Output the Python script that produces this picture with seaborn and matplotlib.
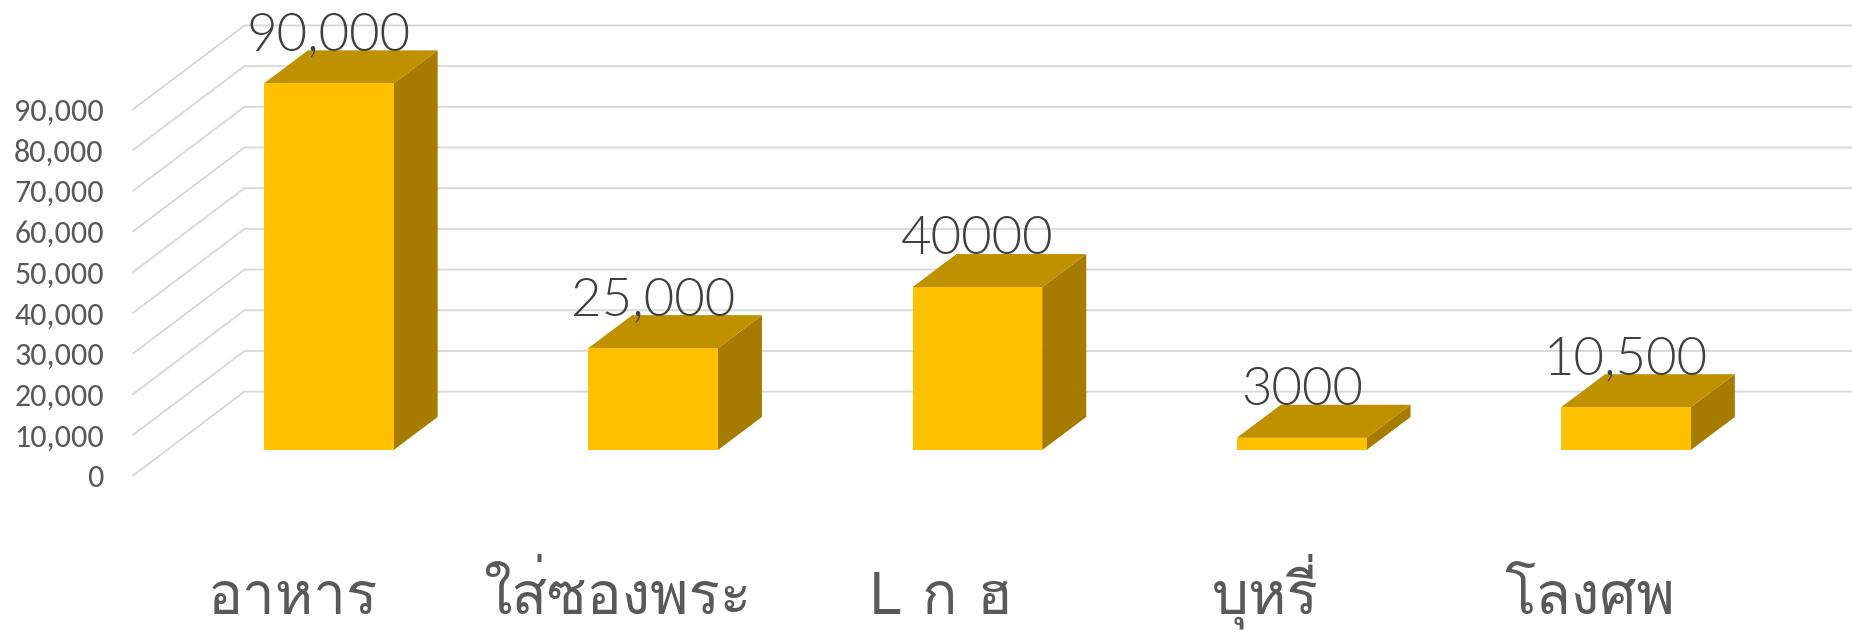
import matplotlib
matplotlib.use('Agg')
import matplotlib.pyplot as plt
from matplotlib.transforms import ScaledTranslation
import seaborn as sns

categories = ['อาหาร', 'ใส่ซองพระ', 'L ก ฮ', 'บุหรี่', 'โลงศพ']
values = [90000, 25000, 40000, 3000, 10500]
value_labels = ['90,000', '25,000', '40000', '3000', '10,500']
y_ticks = [0, 10000, 20000, 30000, 40000, 50000, 60000, 70000, 80000, 90000]

W, H, DPI = 1852, 638, 100
sns.set_theme(style='white')
plt.rcParams['font.family'] = ['Carlito', 'Lato', 'DejaVu Sans']
THAI = ['Loma', 'DejaVu Sans']
LIGHT = ['Lato', 'Carlito', 'DejaVu Sans']

FRONT, TOP, SIDE = '#FFC000', '#BF9000', '#A67C00'
GRID, TICK_C, LABEL_C = '#D9D9D9', '#595959', '#404040'
CENTER, STEP = 328.8, 324.3


def rect(left, top, right, bottom):
    return [left / W, 1 - bottom / H, (right - left) / W, (bottom - top) / H]


fig = plt.figure(figsize=(W / DPI, H / DPI), dpi=DPI, facecolor='white')

# wall: value axis with the slanted gridlines, drawn behind the bars
ax_wall = fig.add_axes(rect(133, 109.4, W, 475.6))
ax_wall.set_xlim(0, W - 133)
ax_wall.set_ylim(0, 90000)
wall_dx, wall_dy = 111.5, 84 / 40.7 * 10000
for v in y_ticks:
    ax_wall.plot([0, wall_dx, W - 133], [v, v + wall_dy, v + wall_dy],
                 color=GRID, lw=1.4, clip_on=False, zorder=1)
ax_wall.set_xticks([])
ax_wall.set_yticks(y_ticks, [f'{v:,}' for v in y_ticks])
ax_wall.tick_params(axis='y', length=0, pad=21, labelsize=23, labelcolor=TICK_C)
for s in ax_wall.spines.values():
    s.set_visible(False)

# bars: front faces from seaborn, depth faces added on the same scales
ax = fig.add_axes(rect(0, 83.4, W, 450))
ax.patch.set_alpha(0)
sns.barplot(x=categories, y=values, color=FRONT, saturation=1, width=0.4,
            linewidth=0, ax=ax, zorder=3)
ax.set_xlim(-CENTER / STEP, (W - CENTER) / STEP)
ax.set_ylim(0, 90000)
ax.set_xlabel('')
ax.set_ylabel('')
ax.set_yticks([])
sns.despine(ax=ax, left=True, bottom=True, right=True, top=True)
half, dx, dy = 0.2, 44 / STEP, 33 / 40.7 * 10000
for i, v in enumerate(values):
    ax.fill([i + half, i + half + dx, i + half + dx, i + half],
            [0, dy, v + dy, v], color=SIDE, lw=0, clip_on=False, zorder=2)
    ax.fill([i - half, i + half, i + half + dx, i - half + dx],
            [v, v, v + dy, v + dy], color=TOP, lw=0, clip_on=False, zorder=2)
    ax.annotate(value_labels[i], (i, v), xytext=(0, 23.5), textcoords='offset points',
                ha='center', va='baseline', fontsize=38, color=LABEL_C,
                family=LIGHT, fontweight=300, zorder=5, annotation_clip=False)

ax.set_xticks(range(len(categories)), categories, family=THAI, fontsize=42,
              color=TICK_C, va='baseline')
ax.tick_params(axis='x', length=0, pad=118)
shift = ScaledTranslation(-36 / DPI, 0, fig.dpi_scale_trans)
for lab in ax.get_xticklabels():
    lab.set_transform(lab.get_transform() + shift)

fig.savefig('out.png', dpi=DPI, facecolor='white')
